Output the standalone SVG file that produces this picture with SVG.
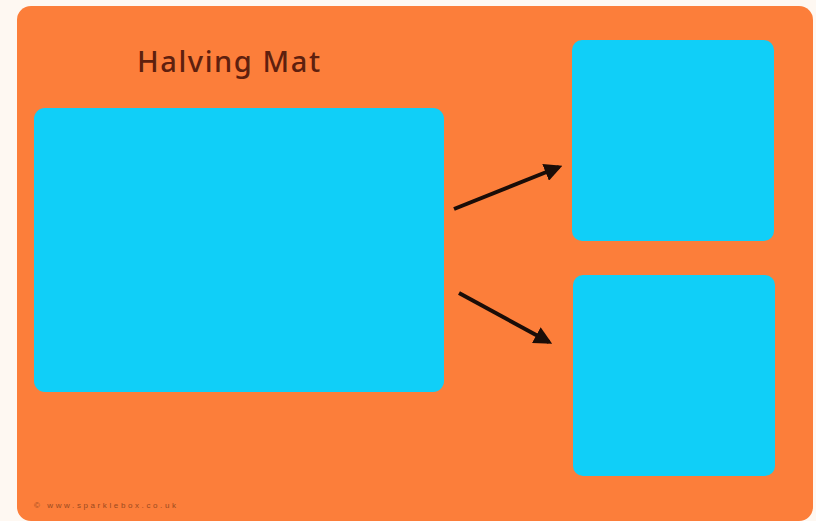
<svg xmlns="http://www.w3.org/2000/svg" width="816" height="521" viewBox="0 0 816 521">
<style>
.box{fill:#10CFF8}
.arr{stroke:#1a0d08;stroke-width:4;fill:none;marker-end:url(#ah)}
</style>
<defs>
<marker id="ah" viewBox="0 0 10 10" refX="8" refY="5" markerWidth="4.5" markerHeight="4.5" orient="auto" markerUnits="strokeWidth">
<path d="M0,0 L10,5 L0,10 z" fill="#1a0d08"/>
</marker>
</defs>
<rect x="0" y="0" width="816" height="521" fill="#FEF8F2"/>
<rect x="17" y="6" width="796" height="515" rx="14" fill="#FC7E3A"/>
<text x="137" y="72" font-family="'Noto Sans', sans-serif" font-size="29" font-weight="500" fill="#5E200E" textLength="183">Halving Mat</text>
<text x="34" y="508" font-family="'Liberation Sans', sans-serif" font-size="8" fill="#9a4a20" textLength="142">© www.sparklebox.co.uk</text>
<g id="whole"><rect class="box" x="34" y="108" width="410" height="284" rx="11"/></g>
<g id="half1"><rect class="box" x="572" y="40" width="202" height="201" rx="10"/></g>
<g id="half2"><rect class="box" x="573" y="275" width="202" height="201" rx="10"/></g>
<g id="connectors">
<line class="arr" x1="454" y1="209" x2="559" y2="167"/>
<line class="arr" x1="459" y1="293" x2="549" y2="342"/>
</g>
</svg>
